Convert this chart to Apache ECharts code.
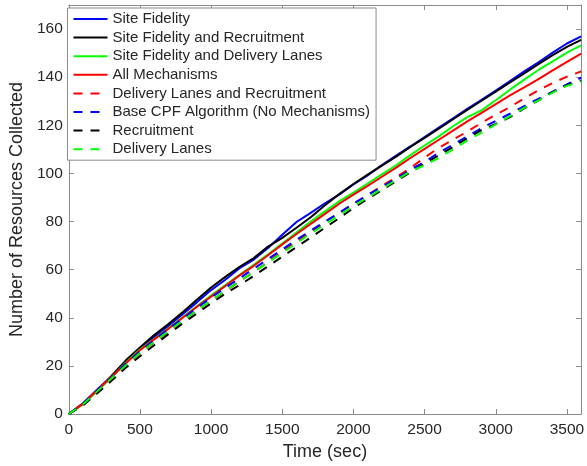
<!DOCTYPE html>
<html>
<head>
<meta charset="utf-8">
<script src="https://cdn.jsdelivr.net/npm/echarts@6/dist/echarts.min.js"></script>
<style>
html,body{margin:0;padding:0;background:#fff;}
#c{width:587px;height:466px;}
</style>
</head>
<body>
<div id="c"></div>
<script>
const times = [0,100,200,300,400,500,600,700,800,900,1000,1100,1200,1300,1400,1500,1600,1700,1800,1900,2000,2100,2200,2300,2400,2500,2600,2700,2800,2900,3000,3100,3200,3300,3400,3500,3600];

const siteFidelity = [0,4.5,10.2,15.6,22,27.3,32,36.6,41.5,46.4,51.5,55.8,60.6,64.2,69,74.5,79.8,83.6,87.6,91.2,95.4,99.2,103.5,107.4,111.2,115.1,119,122.9,126.8,130.6,134.4,138.4,142.4,146.2,150.2,154,157];
const sfRecruitment = [0,4.2,9.8,15.8,22.2,27.6,32.8,37.4,42.3,47.5,52.6,57,61.2,64.8,69.6,73.2,77.4,81.8,86.8,91.4,95.6,99.5,103.2,107,111,114.8,118.6,122.5,126.4,130.2,134,137.8,141.6,145.4,149.2,152.6,155.5];
const sfDeliveryLanes = [0,4,9.6,15.2,21.3,26.8,31.2,35.6,40.2,44.8,49.2,53.6,57.8,62,66.4,70.8,75.4,80,84.2,88.4,92,95.8,99.6,103.4,107.6,111.6,115.4,119.6,123.4,126.2,130.4,134.8,139,143,146.6,150.2,153.2];
const allMechanisms = [0,4.3,10,15.4,21,26.5,31,35.4,40,44.6,48.8,53.2,57.6,61.6,66,70.5,74.8,79,83.2,87.4,91.2,94.8,98.6,102.4,106.4,110.2,114,117.8,121.6,125.2,128.8,132.4,135.8,139.2,142.8,146.4,149.8];
const dlRecruitment = [0,3.8,9.2,14.6,20,25.2,29.8,34.2,38.6,43,47,51,55.2,59,63.2,67.6,71.4,75.6,79.8,83.6,87.4,91,94.8,98.4,102.2,106.6,110.6,114,117.4,121,124.4,127.6,131.2,134.6,137.6,140.2,142.4];
const baseCPF = [0,4.2,9.8,15,20.8,26,30.6,35.2,39.6,44,48.4,52.4,56.4,60.4,64.4,68.4,72.4,76.2,80,83.6,87.4,91,94.4,97.8,101.4,104.8,108.6,112,115.4,118.8,121.8,124.8,128,131,134,137,139.8];
const recruitment = [0,3.6,8.6,13.8,19.2,24,28.6,33.2,37.6,41.8,46,50,53.6,57.4,61.4,65.4,69.4,73.4,77.4,81.4,85.6,89.4,93,96.8,100.4,104,107.6,111,114.6,118,120.6,123.4,127,130.4,133.8,136.6,138.6];
const deliveryLanes = [0,4,9.4,14.8,20.2,25.4,30,34.4,38.8,43,47.2,51.2,55.2,59,63,67,71,75,78.8,82.6,86.4,90,93.6,97.2,100.8,103.4,106.4,110,113.6,117,120.4,123.8,127.2,130.4,133.6,136.4,138.2];

const seriesNames = ['Site Fidelity','Site Fidelity and Recruitment','Site Fidelity and Delivery Lanes','All Mechanisms','Delivery Lanes and Recruitment','Base CPF Algorithm (No Mechanisms)','Recruitment','Delivery Lanes'];
const seriesValues = [siteFidelity, sfRecruitment, sfDeliveryLanes, allMechanisms, dlRecruitment, baseCPF, recruitment, deliveryLanes];
const seriesColors = ['#0000ff','#000000','#00ff00','#ff0000','#ff0000','#0000ff','#000000','#00ff00'];
const seriesDashed = [false,false,false,false,true,true,true,true];

const xTicks = [0,500,1000,1500,2000,2500,3000,3500];
const yTicks = [0,20,40,60,80,100,120,140,160];

const FONT = '"Liberation Sans", Arial, Helvetica, sans-serif';
const AXIS_COLOR = '#8a8a8a';
const TEXT_COLOR = '#262626';

const chart = echarts.init(document.getElementById('c'), null, {renderer:'canvas'});

const series = seriesNames.map((name, i) => ({
  name: name,
  type: 'line',
  xAxisIndex: 0,
  yAxisIndex: 0,
  symbol: 'none',
  showSymbol: false,
  smooth: false,
  data: times.map((t, k) => [t, seriesValues[i][k]]),
  lineStyle: { color: seriesColors[i], width: 2, type: seriesDashed[i] ? [9, 8] : 'solid' },
  itemStyle: { color: seriesColors[i] },
  emphasis: { disabled: true }
}));

const baseX = {
  type: 'value', min: 0, max: 3600, interval: 500,
  splitLine: { show: false },
  axisLine: { show: true, onZero: false, lineStyle: { color: AXIS_COLOR, width: 1 } },
  axisTick: { show: true, inside: true, length: 5, lineStyle: { color: AXIS_COLOR, width: 1 } }
};
const baseY = {
  type: 'value', min: 0, max: 170, interval: 20,
  splitLine: { show: false },
  axisLine: { show: true, onZero: false, lineStyle: { color: AXIS_COLOR, width: 1 } },
  axisTick: { show: true, inside: true, length: 5, lineStyle: { color: AXIS_COLOR, width: 1 } }
};

chart.setOption({
  animation: false,
  backgroundColor: '#fff',
  grid: { left: 63, right: 4, top: 5, bottom: 52, containLabel: false },
  legend: {
    data: seriesNames,
    orient: 'vertical',
    left: 67.5,
    top: 8,
    padding: [3.5, 6, 3.5, 5],
    itemWidth: 34,
    itemHeight: 14,
    itemGap: 3.6,
    backgroundColor: '#ffffff',
    borderColor: AXIS_COLOR,
    borderWidth: 1,
    borderRadius: 0,
    selectedMode: false,
    itemStyle: { opacity: 0, borderWidth: 0 },
    textStyle: { fontFamily: FONT, fontSize: 15, color: TEXT_COLOR, padding: [0,0,0,0] }
  },
  xAxis: [
    Object.assign({}, baseX, {
      position: 'bottom',
      name: 'Time (sec)',
      nameLocation: 'middle',
      nameGap: 27,
      nameTextStyle: { fontFamily: FONT, fontSize: 18, color: TEXT_COLOR },
      axisLabel: {
        show: true, margin: 8, fontFamily: FONT, fontSize: 15.5, color: TEXT_COLOR,
        formatter: v => (xTicks.indexOf(v) >= 0 ? String(v) : '')
      }
    }),
    Object.assign({}, baseX, { position: 'top', axisLabel: { show: false } })
  ],
  yAxis: [
    Object.assign({}, baseY, {
      position: 'left',
      name: 'Number of Resources Collected',
      nameLocation: 'middle',
      nameGap: 36,
      nameRotate: 90,
      nameTextStyle: { fontFamily: FONT, fontSize: 18, color: TEXT_COLOR },
      axisLabel: {
        show: true, margin: 6, fontFamily: FONT, fontSize: 15.5, color: TEXT_COLOR,
        formatter: v => (yTicks.indexOf(v) >= 0 ? String(v) : '')
      }
    }),
    Object.assign({}, baseY, { position: 'right', axisLabel: { show: false } })
  ],
  series: series
});
</script>
</body>
</html>
